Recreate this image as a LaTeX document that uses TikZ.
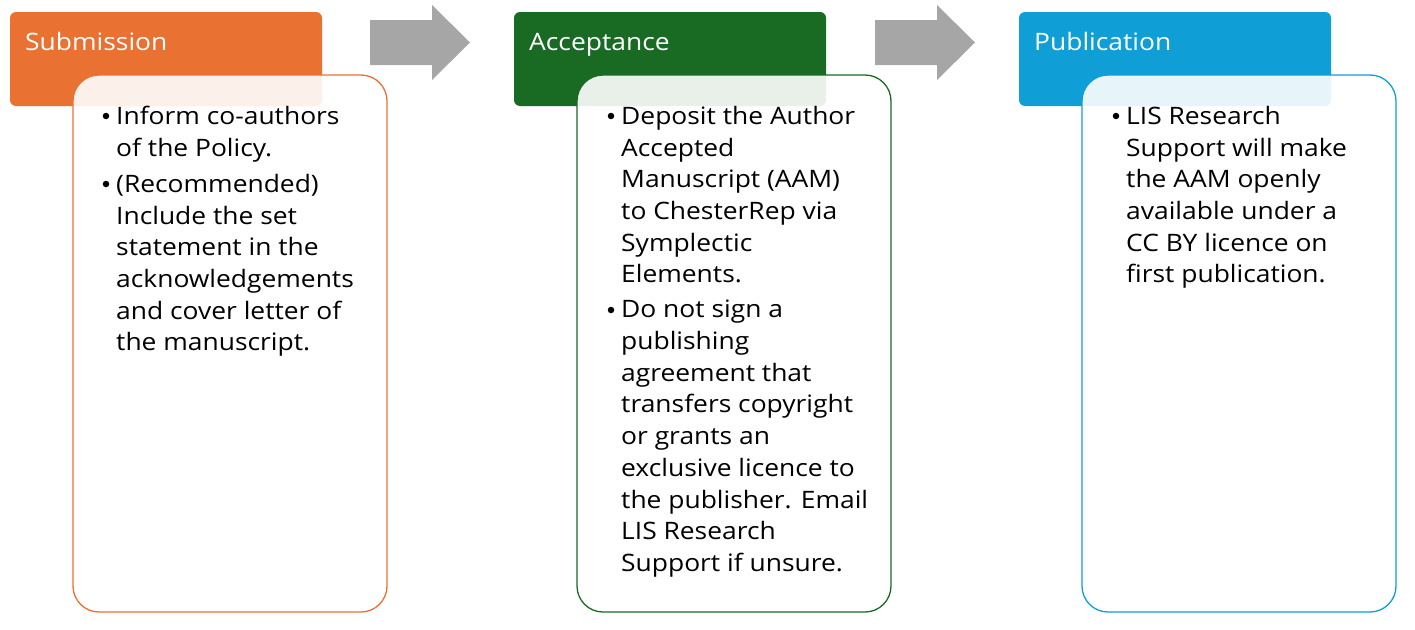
\documentclass[tikz,border=0pt]{standalone}
\usepackage{fontspec}
\setmainfont{Open Sans}[FakeStretch=1.1]
\definecolor{cOr}{HTML}{E97132}
\definecolor{cGr}{HTML}{196B24}
\definecolor{cBl}{HTML}{0F9ED5}
\definecolor{cAr}{HTML}{A6A6A6}
\begin{document}
\begin{tikzpicture}[x=1pt,y=-1pt,
  head/.style={rounded corners=6pt},
  body/.style={rounded corners=26pt, line width=1.3pt, fill=white, fill opacity=0.9},
  htext/.style={anchor=base west, text=white, font=\fontsize{24}{28}\selectfont, inner sep=0pt},
  btext/.style={anchor=north west, inner sep=0pt, align=left, font=\fontsize{24}{31.7}\selectfont},
  bul/.style={circle, fill=black, inner sep=0pt, minimum size=6.5pt}]
\useasboundingbox (0,0) rectangle (1415,629);
% arrows
\foreach \x in {370,875}{
  \fill[cAr] (\x,20) -- (\x+62,20) -- (\x+62,5) -- (\x+100,42.5) -- (\x+62,80) -- (\x+62,65) -- (\x,65) -- cycle;
}
% columns
\foreach \n/\x/\c/\t in {s/10/cOr/Submission,a/514/cGr/Acceptance,p/1019/cBl/Publication}{
  \fill[head,\c] (\x,12) rectangle (\x+312,106);
  \node[htext] (\n h) at (\x+15,50) {\t};
  \draw[body,draw=\c] (\x+63,75) rectangle (\x+377,612);
}
% Submission bullets
\node[bul] (sb1) at (106,116) {};
\node[btext] (st1) at (116,106) {Inform co-authors\\of the Policy.};
\node[bul] (sb2) at (106,184) {};
\node[btext] (st2) at (116,174) {(Recommended)\\Include the set\\statement in the\\acknowledgements\\and cover letter of\\the manuscript.};
% Acceptance bullets
\node[bul] (ab1) at (611,116) {};
\node[btext] (at1) at (621,106) {Deposit the Author\\Accepted\\Manuscript (AAM)\\to ChesterRep via\\Symplectic\\Elements.};
\node[bul] (ab2) at (611,310) {};
\node[btext] (at2) at (621,300) {Do not sign a\\publishing\\agreement that\\transfers copyright\\or grants an\\exclusive licence to\\the publisher. Email\\LIS Research\\Support if unsure.};
% Publication bullets
\node[bul] (pb1) at (1116,116) {};
\node[btext] (pt1) at (1126,106) {LIS Research\\Support will make\\the AAM openly\\available under a\\CC BY licence on\\first publication.};
\end{tikzpicture}
\end{document}
